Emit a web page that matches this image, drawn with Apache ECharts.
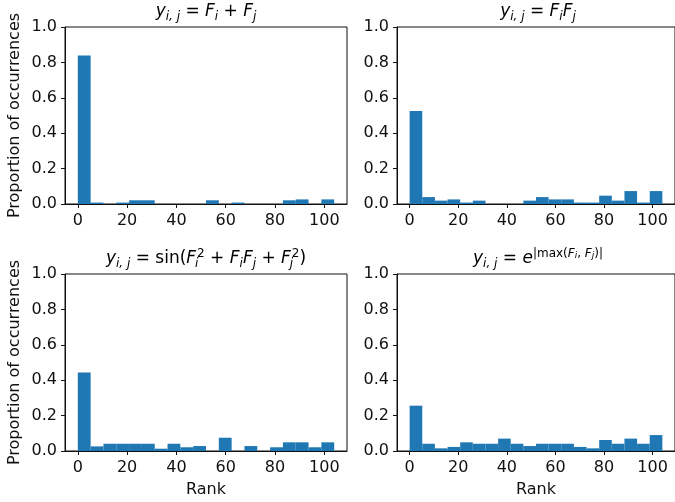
<!DOCTYPE html>
<html lang="en">
<head>
    <meta charset="UTF-8">
    <title>Rank histograms</title>
    <style>
        html, body { margin: 0; padding: 0; background: #fff; }
    </style>
</head>
<body>
<div id="main" style="width:675px;height:502px;"></div>
<script src="https://cdn.jsdelivr.net/npm/echarts@6/dist/echarts.min.js"></script>
<script>
    // 20 bins over rank 0..104
    var binEdges = [0, 5.2, 10.4, 15.6, 20.8, 26, 31.2, 36.4, 41.6, 46.8, 52,
        57.2, 62.4, 67.6, 72.8, 78, 83.2, 88.4, 93.6, 98.8, 104];
    var xTicks = [0, 20, 40, 60, 80, 100];

    // proportion of occurrences per bin
    var sumVals = [0.839, 0.008, 0, 0.008, 0.021, 0.021, 0, 0, 0, 0,
        0.021, 0, 0.008, 0, 0, 0, 0.021, 0.026, 0, 0.026];
    var prodVals = [0.526, 0.039, 0.019, 0.026, 0.008, 0.019, 0, 0, 0, 0.019,
        0.039, 0.026, 0.026, 0.008, 0.008, 0.047, 0.019, 0.073, 0.008, 0.073];
    var sinVals = [0.444, 0.026, 0.041, 0.041, 0.041, 0.041, 0.013, 0.041, 0.021, 0.028,
        0, 0.075, 0, 0.028, 0, 0.021, 0.049, 0.049, 0.021, 0.049];
    var expVals = [0.256, 0.041, 0.015, 0.023, 0.049, 0.041, 0.041, 0.070, 0.041, 0.028,
        0.041, 0.041, 0.041, 0.023, 0.015, 0.062, 0.041, 0.070, 0.041, 0.090];

    var BLUE = '#1f77b4';
    var INK = '#111';
    var FONT = 'DejaVu Sans';

    var grids = [
        {left: 65, top: 27, width: 282, height: 177},
        {left: 397, top: 27, width: 283, height: 177},
        {left: 65, top: 274, width: 282, height: 177},
        {left: 397, top: 274, width: 283, height: 177}
    ];

    function toBins(vals) {
        var out = [];
        for (var i = 0; i < vals.length; i++) {
            out.push([binEdges[i], binEdges[i + 1], vals[i]]);
        }
        return out;
    }

    function histItem(params, api) {
        var p0 = api.coord([api.value(0), api.value(2)]);
        var p1 = api.coord([api.value(1), 0]);
        return {
            type: 'rect',
            shape: {x: p0[0], y: p0[1], width: p1[0] - p0[0], height: p1[1] - p0[1]},
            style: {fill: BLUE}
        };
    }

    var rich = {
        v: {fontFamily: FONT, fontStyle: 'italic', fontSize: 17, lineHeight: 20, color: '#000'},
        n: {fontFamily: FONT, fontSize: 17, lineHeight: 20, color: '#000'},
        s: {fontFamily: FONT, fontStyle: 'italic', fontSize: 12, lineHeight: 14, padding: [10, 0, 0, 0], color: '#000'},
        s0: {fontFamily: FONT, fontStyle: 'italic', fontSize: 12, lineHeight: 14, padding: [10, 0, 0, 0], width: 1, color: '#000'},
        p: {fontFamily: FONT, fontSize: 12, lineHeight: 14, padding: [0, 0, 10, 0], color: '#000'},
        pv: {fontFamily: FONT, fontStyle: 'italic', fontSize: 12, lineHeight: 14, padding: [0, 0, 10, 0], color: '#000'},
        q: {fontFamily: FONT, fontStyle: 'italic', fontSize: 9, lineHeight: 11, padding: [0, 0, 6, 0], color: '#000'}
    };

    var titles = [
        '{v|y}{s|i, j}{n| = }{v|F}{s|i}{n| + }{v|F}{s|j}',
        '{v|y}{s|i, j}{n| = }{v|F}{s|i}{v|F}{s|j}',
        '{v|y}{s|i, j}{n| = sin(}{v|F}{s0|i}{p|2}{n| + }{v|F}{s|i}{v|F}{s|j}{n| + }{v|F}{s0|j}{p|2}{n|)}',
        '{v|y}{s|i, j}{n| = }{v|e}{p||max(}{pv|F}{q|i}{p|, }{pv|F}{q|j}{p|)|}'
    ];
    var allVals = [sumVals, prodVals, sinVals, expVals];

    var xAxes = [], yAxes = [], series = [], graphics = [];
    grids.forEach(function (g, k) {
        xAxes.push({
            type: 'value', gridIndex: k, min: -5.2, max: 109.2,
            name: k >= 2 ? 'Rank' : '', nameLocation: 'middle', nameGap: 31,
            nameTextStyle: {fontFamily: FONT, fontSize: 16, color: INK},
            splitLine: {show: false},
            axisLine: {show: true, onZero: false, lineStyle: {color: INK, width: 1}},
            axisTick: {show: true, length: 4, customValues: xTicks, lineStyle: {color: INK}},
            axisLabel: {customValues: xTicks, margin: 9, fontFamily: FONT, fontSize: 16, color: INK}
        });
        yAxes.push({
            type: 'value', gridIndex: k, min: 0, max: 1, interval: 0.2,
            name: k % 2 === 0 ? 'Proportion of occurrences' : '', nameLocation: 'middle', nameGap: 42,
            nameRotate: 90,
            nameTextStyle: {fontFamily: FONT, fontSize: 16, color: INK},
            splitLine: {show: false},
            axisLine: {show: true, onZero: false, lineStyle: {color: INK, width: 1}},
            axisTick: {show: true, length: 4, lineStyle: {color: INK}},
            axisLabel: {
                margin: 8, fontFamily: FONT, fontSize: 16, color: INK,
                formatter: function (v) { return v.toFixed(1); }
            }
        });
        series.push({
            type: 'custom', xAxisIndex: k, yAxisIndex: k,
            renderItem: histItem, encode: {x: [0, 1], y: 2},
            data: toBins(allVals[k]), silent: true
        });
        graphics.push({
            type: 'text', x: g.left + 141, y: g.top - 15,
            style: {text: titles[k], rich: rich, align: 'center', verticalAlign: 'middle'}
        });
    });

    var myChart = echarts.init(document.getElementById('main'));
    myChart.setOption({
        animation: false,
        backgroundColor: '#fff',
        grid: grids.map(function (g) {
            return {left: g.left, top: g.top, width: g.width, height: g.height,
                show: true, borderColor: INK, borderWidth: 1, backgroundColor: 'transparent'};
        }),
        xAxis: xAxes,
        yAxis: yAxes,
        series: series,
        graphic: graphics
    });
</script>
</body>
</html>
